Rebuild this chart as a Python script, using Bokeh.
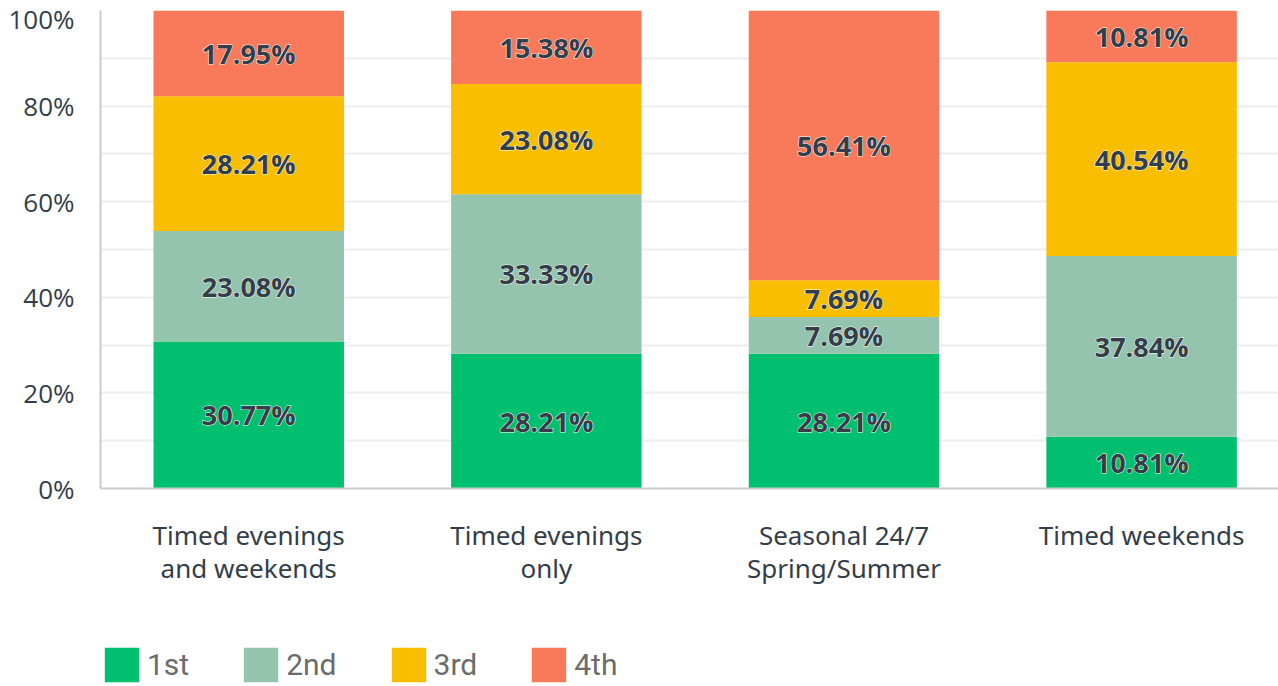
from bokeh.plotting import figure
from bokeh.layouts import column
from bokeh.models import (ColumnDataSource, Range1d, FixedTicker, Legend, LegendItem)
from bokeh.core.properties import value
from bokeh.embed import file_html
from bokeh.resources import INLINE

# ---- data ----
categories = ["Timed evenings and weekends", "Timed evenings only",
              "Seasonal 24/7 Spring/Summer", "Timed weekends"]
tick_labels = ["Timed evenings\nand weekends", "Timed evenings\nonly",
               "Seasonal 24/7\nSpring/Summer", "Timed weekends"]
series = ["1st", "2nd", "3rd", "4th"]
first = [30.77, 28.21, 28.21, 10.81]
second = [23.08, 33.33, 7.69, 37.84]
third = [28.21, 23.08, 7.69, 40.54]
fourth = [17.95, 15.38, 56.41, 10.81]
colors = ["#00bf6f", "#94c3ae", "#f9be00", "#f87a5b"]
y_ticks = [0, 20, 40, 60, 80, 100]
y_minor = [10, 30, 50, 70, 90]
y_tick_labels = ["0%", "20%", "40%", "60%", "80%", "100%"]

xs = list(range(len(categories)))
data = dict(x=xs, **{s: v for s, v in zip(series, [first, second, third, fourth])})
source = ColumnDataSource(data)

p = figure(width=1278, height=620, output_backend="svg", toolbar_location=None,
           x_range=Range1d(-0.498, 3.46), y_range=Range1d(0, 100),
           min_border_left=100, min_border_right=0, min_border_top=10,
           min_border_bottom=132)
p.outline_line_color = None

renderers = p.vbar_stack(series, x="x", width=0.64, color=colors, line_color=None,
                         source=source)

# value labels
all_vals = [first, second, third, fourth]
lx, ly, lt = [], [], []
for i in xs:
    base = 0.0
    for vals in all_vals:
        v = vals[i]
        lx.append(i)
        ly.append(base + v / 2)
        lt.append(f"{v:.2f}%")
        base += v
lsrc = ColumnDataSource(dict(x=lx, y=ly, t=lt))
common = dict(x="x", y="y", text="t", source=lsrc, text_align="center",
              text_baseline="middle", text_font=value("Open Sans"),
              text_font_style="bold", text_font_size="27px", text_color="#333e48")
p.text(text_outline_color="white", **common)
p.text(**common)

# x axis
p.xaxis.ticker = FixedTicker(ticks=xs)
p.xaxis.major_label_overrides = {i: t for i, t in zip(xs, tick_labels)}
p.xaxis.major_tick_line_color = None
p.xaxis.minor_tick_line_color = None
p.xaxis.axis_line_color = "#cccccc"
p.xaxis.axis_line_width = 2
p.xaxis.major_label_text_font = "Noto Sans"
p.xaxis.major_label_text_font_size = "26px"
p.xaxis.major_label_text_color = "#333e48"
p.xaxis.major_label_standoff = 22
p.xaxis.major_label_text_line_height = 0.93

# y axis
p.yaxis.ticker = FixedTicker(ticks=y_ticks, minor_ticks=y_minor)
p.yaxis.major_label_overrides = {t: l for t, l in zip(y_ticks, y_tick_labels)}
p.yaxis.major_tick_line_color = None
p.yaxis.minor_tick_line_color = None
p.yaxis.axis_line_color = "#cccccc"
p.yaxis.axis_line_width = 2
p.yaxis.major_label_text_font = "Open Sans"
p.yaxis.major_label_text_font_size = "26px"
p.yaxis.major_label_text_color = "#333e48"
p.yaxis.major_label_standoff = 20

# grid lines every 10%
p.xgrid.grid_line_color = None
p.ygrid.grid_line_color = "#eeeeee"
p.ygrid.grid_line_width = 2
p.ygrid.minor_grid_line_color = "#eeeeee"
p.ygrid.minor_grid_line_width = 2

# legend strip below the chart (its bars lie outside the visible ranges)
p2 = figure(width=1278, height=66, output_backend="svg", toolbar_location=None,
            x_range=Range1d(20, 24), y_range=Range1d(200, 210),
            x_axis_location=None, y_axis_location=None,
            min_border_left=0, min_border_right=0, min_border_top=0,
            min_border_bottom=0)
p2.outline_line_color = None
p2.grid.grid_line_color = None
leg_rs = p2.vbar_stack(series, x="x", width=0.64, color=colors, line_color=None,
                       source=source)
legend = Legend(items=[LegendItem(label=s, renderers=[r]) for s, r in zip(series, leg_rs)],
                orientation="horizontal", location=(0, 0),
                glyph_width=43, glyph_height=43, label_height=43,
                label_text_font="Roboto", label_text_font_size="30px",
                label_text_color="#6b6b6b", label_standoff=4, spacing=50,
                padding=0, margin=0, border_line_color=None,
                background_fill_alpha=0)
p2.add_layout(legend, "center")

layout = column(p, p2, spacing=0)
open("out.html", "w").write(file_html(layout, INLINE))
